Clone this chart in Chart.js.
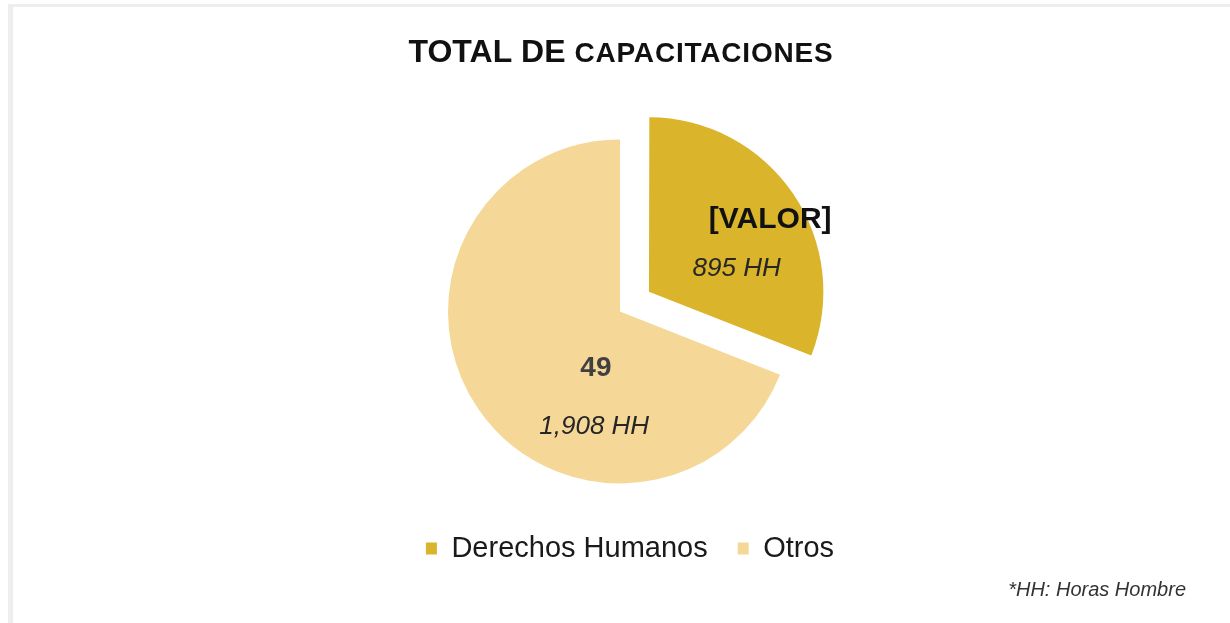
<!DOCTYPE html>
<html>
<head>
<meta charset="utf-8">
<script src="https://cdn.jsdelivr.net/npm/chart.js@4"></script>
<style>
  html, body { margin:0; padding:0; background:#ffffff; }
  #wrap { position:relative; width:1230px; height:623px; overflow:hidden; }
  #bl { position:absolute; left:8px; top:4px; width:5px; height:619px; background:#eeeeee; }
  #bt { position:absolute; left:8px; top:4px; width:1222px; height:3px; background:#eeeeee; }
  canvas { position:absolute; left:0; top:0; }
</style>
</head>
<body>
<div id="wrap">
  <div id="bl"></div><div id="bt"></div>
  <canvas id="c" width="1230" height="623"></canvas>
</div>
<script>
// ---- data ----
const categories = ['Derechos Humanos', 'Otros'];
const courseCounts = [22, 49];              // slice sizes (number of trainings)
const countLabels = ['[VALOR]', '49'];       // label text shown in each slice
const manHours = [895, 1908];                // HH per category
const titleMain = 'TOTAL DE ';
const titleRest = 'CAPACITACIONES';
const footnote = '*HH: Horas Hombre';

// ---- styles ----
const FONT = "'Liberation Sans', Arial, Helvetica, sans-serif";
const colors = ['#DAB42B', '#F5D898'];
const offsets = [140, 0]; // Chart.js v4 draws offset/4

const labelPlugin = {
  id: 'sliceLabels',
  afterDatasetsDraw(chart) {
    const ctx = chart.ctx;
    const meta = chart.getDatasetMeta(0);
    // per-slice placement of the two label lines, in units of radius from the (exploded) arc centre
    const place = [
      { a: [0.705, -0.42], b: [0.51, -0.135], aFont: 'bold 30px ' + FONT, aColor: '#111111' },
      { a: [-0.14, 0.33], b: [-0.15, 0.67], aFont: 'bold 28px ' + FONT, aColor: '#404040' }
    ];
    meta.data.forEach((arc, i) => {
      const p = arc.getProps(['x', 'y', 'startAngle', 'endAngle', 'outerRadius'], true);
      const mid = (p.startAngle + p.endAngle) / 2;
      const off = (arc.options.offset || 0) / 4;
      const cx = p.x + Math.cos(mid) * off;
      const cy = p.y + Math.sin(mid) * off;
      const r = p.outerRadius;
      const pl = place[i];
      ctx.save();
      ctx.textAlign = 'center';
      ctx.textBaseline = 'middle';
      ctx.font = pl.aFont;
      ctx.fillStyle = pl.aColor;
      ctx.fillText(countLabels[i], cx + pl.a[0] * r, cy + pl.a[1] * r);
      ctx.font = 'italic 26px ' + FONT;
      ctx.fillStyle = '#262626';
      ctx.fillText(manHours[i].toLocaleString('en-US') + ' HH', cx + pl.b[0] * r, cy + pl.b[1] * r);
      ctx.restore();
    });
  }
};

const legendShift = {
  id: 'legendShift',
  afterLayout(chart) {
    if (chart.legend) { chart.legend.left += 10; chart.legend.right += 10; }
  }
};

const textPlugin = {
  id: 'extraText',
  afterDraw(chart) {
    const ctx = chart.ctx;
    ctx.save();
    ctx.fillStyle = '#111111';
    ctx.textBaseline = 'alphabetic';
    ctx.textAlign = 'left';
    const f1 = 'bold 32px ' + FONT, f2 = 'bold 28px ' + FONT;
    ctx.font = f1; ctx.letterSpacing = '0px'; const w1 = ctx.measureText(titleMain).width;
    ctx.font = f2; ctx.letterSpacing = '0.8px'; const w2 = ctx.measureText(titleRest).width;
    const x0 = 621 - (w1 + w2) / 2;
    ctx.font = f1; ctx.letterSpacing = '0px'; ctx.fillText(titleMain, x0, 62);
    ctx.font = f2; ctx.letterSpacing = '0.8px'; ctx.fillText(titleRest, x0 + w1, 62);
    ctx.letterSpacing = '0px';
    ctx.font = 'italic 20px ' + FONT;
    ctx.fillStyle = '#333333';
    ctx.textAlign = 'right';
    ctx.textBaseline = 'middle';
    ctx.fillText(footnote, 1186, 590);
    ctx.restore();
  }
};

new Chart(document.getElementById('c'), {
  type: 'pie',
  data: {
    labels: categories,
    datasets: [{
      data: courseCounts,
      backgroundColor: colors,
      borderWidth: 0,
      offset: offsets,
      hoverOffset: 0
    }]
  },
  options: {
    responsive: false,
    animation: false,
    radius: 172,
    layout: { padding: { left: 20, right: 10, top: 119, bottom: 50 } },
    plugins: {
      title: { display: false },
      tooltip: { enabled: false },
      legend: {
        position: 'bottom',
        align: 'center',
        labels: {
          boxWidth: 11,
          boxHeight: 12,
          padding: 30,
          color: '#1a1a1a',
          font: { family: FONT, size: 29 }
        }
      }
    }
  },
  plugins: [labelPlugin, legendShift, textPlugin]
});
</script>
</body>
</html>
